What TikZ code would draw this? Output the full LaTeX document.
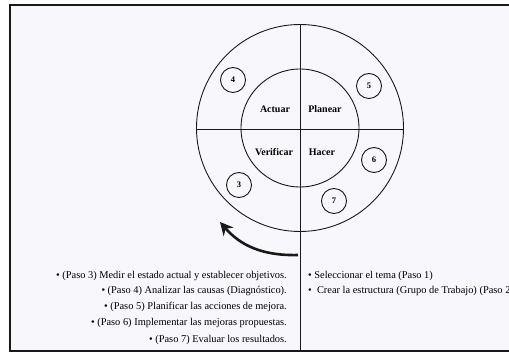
\documentclass[tikz,border=0pt]{standalone}
\usepackage{fontspec}
\setmainfont{Liberation Serif}
\usetikzlibrary{arrows.meta}
\definecolor{paper}{RGB}{248,247,251}
\definecolor{ink}{RGB}{25,25,25}
\tikzset{
  px/.style={x=1pt,y=-1pt},
  frameline/.style={draw=ink,line width=2pt},
  ringline/.style={draw=ink,line width=0.9pt},
  numcirc/.style={circle,draw=ink,line width=0.9pt,minimum size=25pt,inner sep=0pt,font=\fontsize{8.5}{9}\selectfont\bfseries},
  quad/.style={font=\fontsize{10}{12}\selectfont\bfseries,inner sep=0pt},
  steptext/.style={font=\fontsize{10.4}{12}\selectfont,inner sep=0pt},
  bigarrow/.style={draw=ink,line width=2.6pt,-{Stealth[length=13pt,width=13pt]}}
}
\begin{document}
\begin{tikzpicture}[px]
\useasboundingbox (0,0) rectangle (509,352);
\fill[paper] (10,5) rectangle (509,351);
\draw[frameline] (509,5) -- (10,5) -- (10,351) -- (509,351);
% rings
\coordinate (c) at (300,128);
\draw[ringline] (c) circle[radius=103.5pt];
\draw[ringline] (c) circle[radius=59pt];
\coordinate (vtop) at (300,24.5);
\coordinate (vbot) at (300,352);
\coordinate (hl) at (196.5,129);
\coordinate (hr) at (403.5,129);
\draw[ringline] (vtop) -- (vbot);
\draw[ringline] (hl) -- (hr);
% quadrant labels
\node[quad] (actuar) at (275,109) {Actuar};
\node[quad] (planear) at (325,109) {Planear};
\node[quad] (verificar) at (274,152) {Verificar};
\node[quad] (hacer) at (322,152) {Hacer};
% numbered circles
\node[numcirc] (n4) at (233,80) {4};
\node[numcirc] (n5) at (369,86) {5};
\node[numcirc] (n6) at (374,160) {6};
\node[numcirc] (n3) at (239,185) {3};
\node[numcirc] (n7) at (334,201) {7};
% arrow
\coordinate (aS) at (298,255);
\coordinate (aE) at (220,222);
\draw[bigarrow] (aS) .. controls (262,256) and (240,245) .. (aE);
% left text
\node[steptext,anchor=mid east] (l1) at (287,276) {• (Paso 3) Medir el estado actual y establecer objetivos.};
\node[steptext,anchor=mid east] (l2) at (287,291) {• (Paso 4) Analizar las causas (Diagnóstico).};
\node[steptext,anchor=mid east] (l3) at (287,307) {• (Paso 5) Planificar las acciones de mejora.};
\node[steptext,anchor=mid east] (l4) at (287,323) {• (Paso 6) Implementar las mejoras propuestas.};
\node[steptext,anchor=mid east] (l5) at (287,340) {• (Paso 7) Evaluar los resultados.};
% right text
\node[steptext,anchor=mid west] (r1) at (308,276) {• Seleccionar el tema (Paso 1)};
\node[steptext,anchor=mid west] (r2) at (308,291) {•\ \ Crear la estructura (Grupo de Trabajo) (Paso 2};
\end{tikzpicture}
\end{document}
